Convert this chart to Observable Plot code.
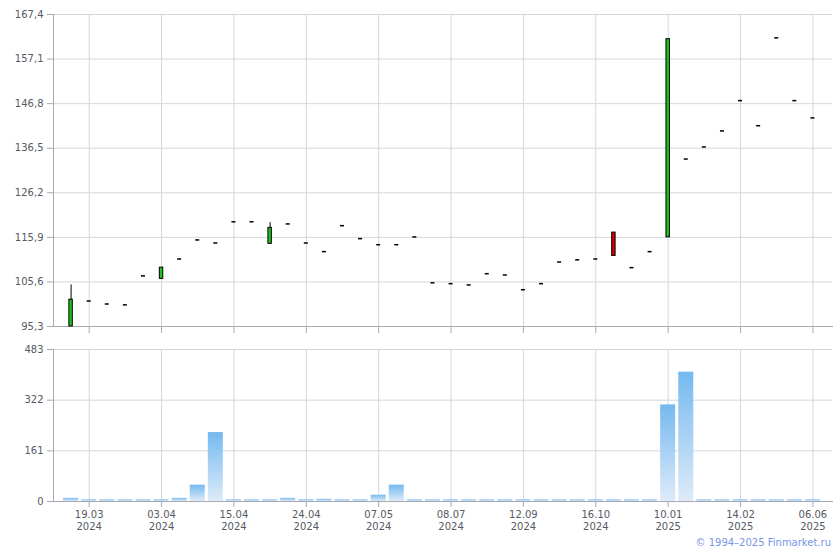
<!DOCTYPE html>
<html>
<head>
<meta charset="utf-8">
<script src="https://cdn.jsdelivr.net/npm/d3@7"></script>
<script src="https://cdn.jsdelivr.net/npm/@observablehq/plot@0.6"></script>
<style>
  html, body { margin: 0; padding: 0; background: #fff; }
  #wrap { position: relative; width: 840px; height: 550px; font-family: "DejaVu Sans", Verdana, sans-serif; }
  #topPanel, #bottomPanel { position: absolute; left: 0; }
  #topPanel { top: 0; }
  #bottomPanel { top: 340px; }
  #copy { position: absolute; right: 9px; top: 537px; font-size: 10px; color: #7896e6; font-family: "DejaVu Sans", Verdana, sans-serif; }
</style>
</head>
<body>
<div id="wrap">
  <div id="topPanel"></div>
  <div id="bottomPanel"></div>
  <div id="copy">© 1994–2025 Finmarket.ru</div>
</div>
<script>
// ---- data ----
const dates = [
  "14.03.2024","19.03.2024","22.03.2024","26.03.2024","29.03.2024","03.04.2024","05.04.2024","09.04.2024",
  "11.04.2024","15.04.2024","17.04.2024","19.04.2024","22.04.2024","24.04.2024","26.04.2024","02.05.2024",
  "03.05.2024","07.05.2024","13.05.2024","27.05.2024","13.06.2024","08.07.2024","24.07.2024","07.08.2024",
  "21.08.2024","12.09.2024","20.09.2024","01.10.2024","09.10.2024","16.10.2024","08.11.2024","26.11.2024",
  "18.12.2024","10.01.2025","16.01.2025","24.01.2025","05.02.2025","14.02.2025","04.03.2025","28.03.2025",
  "14.05.2025","06.06.2025"
];
const open = [95.3,101.2,100.5,100.3,107.0,106.3,110.9,115.3,114.6,119.5,119.5,114.4,119.0,114.6,112.6,118.6,
  115.6,114.2,114.2,116.0,105.4,105.2,104.9,107.5,107.2,103.8,105.2,110.2,110.7,110.9,117.0,108.9,
  112.6,115.9,134.0,136.8,140.5,147.5,141.7,162.0,147.5,143.5];
const high = [104.9,101.2,100.5,100.3,107.0,108.9,110.9,115.3,114.6,119.5,119.5,119.3,119.0,114.6,112.6,118.6,
  115.6,114.2,114.2,116.0,105.4,105.2,104.9,107.5,107.2,103.8,105.2,110.2,110.7,110.9,117.0,108.9,
  112.6,161.7,134.0,136.8,140.5,147.5,141.7,162.0,147.5,143.5];
const low = [95.3,101.2,100.5,100.3,107.0,106.3,110.9,115.3,114.6,119.5,119.5,114.4,119.0,114.6,112.6,118.6,
  115.6,114.2,114.2,116.0,105.4,105.2,104.9,107.5,107.2,103.8,105.2,110.2,110.7,110.9,111.6,108.9,
  112.6,115.9,134.0,136.8,140.5,147.5,141.7,162.0,147.5,143.5];
const close = [101.5,101.2,100.5,100.3,107.0,108.9,110.9,115.3,114.6,119.5,119.5,118.1,119.0,114.6,112.6,118.6,
  115.6,114.2,114.2,116.0,105.4,105.2,104.9,107.5,107.2,103.8,105.2,110.2,110.7,110.9,111.6,108.9,
  112.6,161.7,134.0,136.8,140.5,147.5,141.7,162.0,147.5,143.5];
const volume = [10,5,5,5,5,5,10,52,219,5,5,5,10,5,7,5,
  5,20,52,5,5,5,5,5,5,5,5,5,5,5,5,5,
  5,307,411,5,5,5,5,5,5,5];
const tickDates = ["19.03.2024","03.04.2024","15.04.2024","24.04.2024","07.05.2024","08.07.2024",
  "12.09.2024","16.10.2024","10.01.2025","14.02.2025","06.06.2025"];
const priceTicks = [95.3,105.6,115.9,126.2,136.5,146.8,157.1,167.4];
const volumeTicks = [0,161,322,483];

// ---- build ----
const rows = dates.map((d, i) => ({date: d, open: open[i], high: high[i], low: low[i], close: close[i], volume: volume[i]}));
const upRows = rows.filter(r => r.close > r.open);
const downRows = rows.filter(r => r.close < r.open);
const dojiRows = rows.filter(r => r.close === r.open);
const wickRows = rows.filter(r => r.high > Math.max(r.open, r.close) || r.low < Math.min(r.open, r.close));

const gridColor = "#d3d7dc";
const axisColor = "#a6a9b2";
const textColor = "#555a63";
const chartStyle = {fontFamily: "'DejaVu Sans', Verdana, sans-serif", fontSize: "10px", background: "#fff", overflow: "visible"};
const xScale = {type: "band", domain: dates, range: [60, 823], padding: 0.17, round: false, label: null};
const bodyInset = 5.8;

const topChart = Plot.plot({
  width: 840, height: 340,
  marginTop: 14, marginBottom: 14, marginLeft: 53, marginRight: 8,
  style: chartStyle,
  x: xScale,
  y: {domain: [95.3, 167.4], label: null},
  marks: [
    Plot.gridY(priceTicks, {stroke: gridColor, strokeOpacity: 1}),
    Plot.gridX(tickDates, {stroke: gridColor, strokeOpacity: 1}),
    Plot.axisY({ticks: priceTicks, label: null, tickSize: 6, tickPadding: 4, tickFormat: d => d.toFixed(1).replace(".", ","), stroke: axisColor, fill: textColor}),
    Plot.axisX({ticks: tickDates, label: null, tickSize: 7, tickFormat: () => "", stroke: axisColor}),
    Plot.frame({anchor: "left", stroke: axisColor}),
    Plot.frame({anchor: "bottom", stroke: axisColor}),
    Plot.ruleX(wickRows, {x: "date", y1: "low", y2: "high", stroke: "#000", strokeWidth: 1}),
    Plot.barY(upRows, {x: "date", y1: "open", y2: "close", fill: "#1ec41e", stroke: "#000", strokeWidth: 1, insetLeft: bodyInset, insetRight: bodyInset}),
    Plot.barY(downRows, {x: "date", y1: "open", y2: "close", fill: "#d40000", stroke: "#000", strokeWidth: 1, insetLeft: bodyInset, insetRight: bodyInset}),
    Plot.tickY(dojiRows, {x: "date", y: "close", stroke: "#000", strokeWidth: 1.5, insetLeft: 5.5, insetRight: 5.5})
  ]
});
document.getElementById("topPanel").appendChild(topChart);

const bottomChart = Plot.plot({
  width: 840, height: 200,
  marginTop: 9, marginBottom: 39, marginLeft: 53, marginRight: 8,
  style: chartStyle,
  x: xScale,
  y: {domain: [0, 483], label: null},
  marks: [
    Plot.gridY(volumeTicks, {stroke: gridColor, strokeOpacity: 1}),
    Plot.gridX(tickDates, {stroke: gridColor, strokeOpacity: 1}),
    Plot.axisY({ticks: volumeTicks, label: null, tickSize: 6, tickPadding: 4, stroke: axisColor, fill: textColor}),
    Plot.axisX({ticks: tickDates, label: null, tickSize: 6, tickPadding: 2, lineHeight: 1.2, tickFormat: d => d.slice(0, 5) + "\n" + d.slice(6), stroke: axisColor, fill: textColor}),
    Plot.barY(rows, {x: "date", y: "volume", fill: "url(#volGrad)"}),
    Plot.frame({anchor: "left", stroke: axisColor}),
    Plot.frame({anchor: "bottom", stroke: axisColor})
  ]
});
const ns = "http://www.w3.org/2000/svg";
const defs = document.createElementNS(ns, "defs");
defs.innerHTML = '<linearGradient id="volGrad" x1="0" y1="0" x2="0" y2="1"><stop offset="0" stop-color="#74b9f0"/><stop offset="1" stop-color="#deebf8"/></linearGradient>';
bottomChart.insertBefore(defs, bottomChart.firstChild);
document.getElementById("bottomPanel").appendChild(bottomChart);
</script>
</body>
</html>
